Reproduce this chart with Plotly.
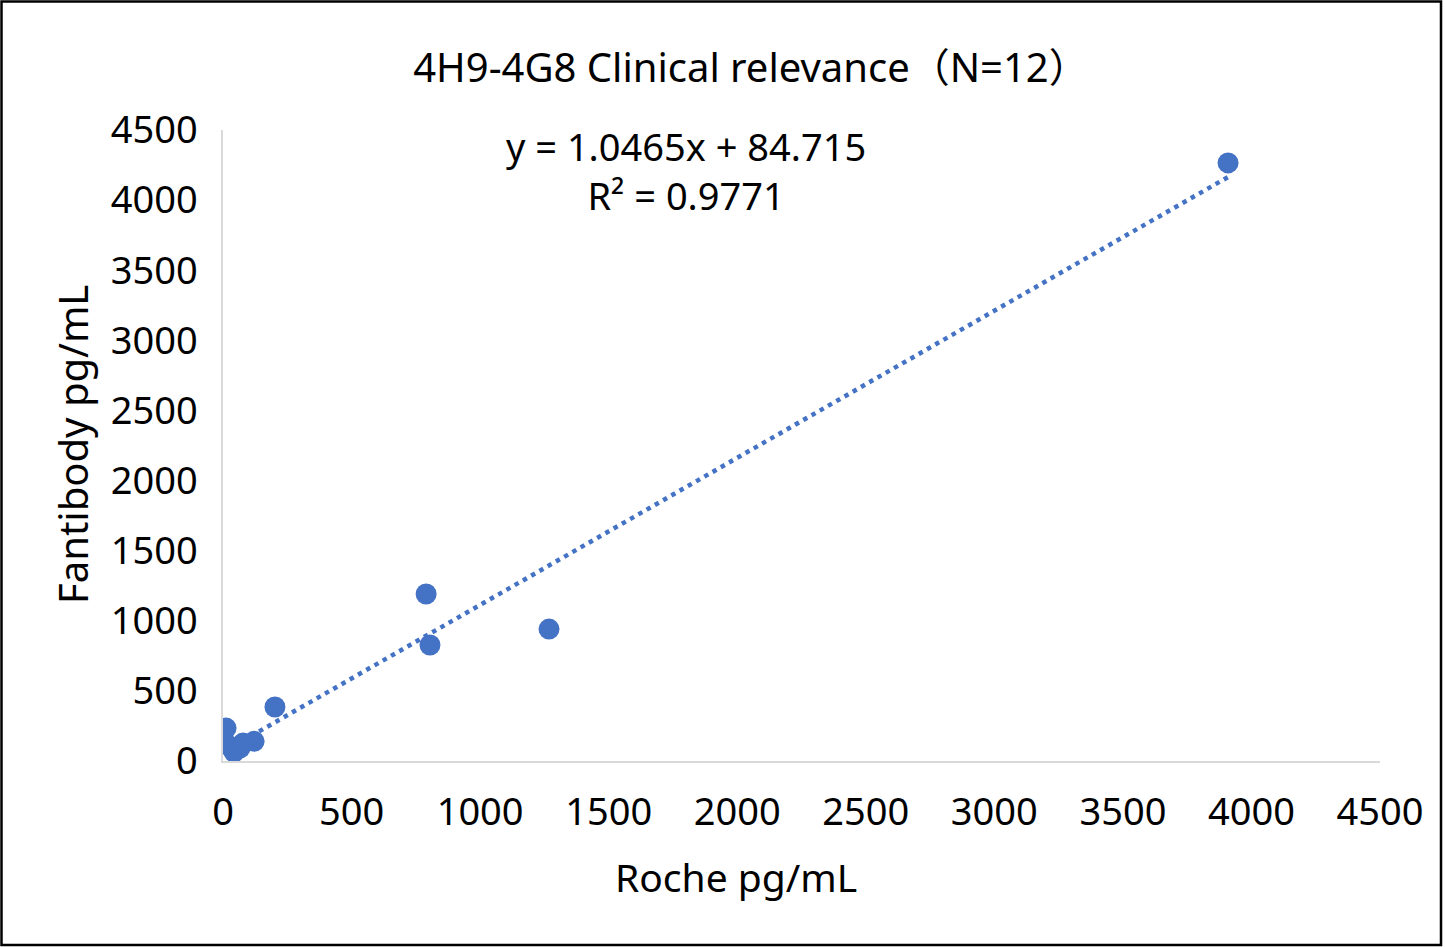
import numpy as np
import plotly.graph_objects as go

# Roche vs Fantibody, pg/mL (12 clinical samples)
roche = [12, 19, 35, 43, 66, 78, 121, 202, 790, 805, 1268, 3909]
fantibody = [235, 114, 93, 64, 93, 128, 140, 385, 1191, 827, 941, 4265]

x_ticks = [0, 500, 1000, 1500, 2000, 2500, 3000, 3500, 4000, 4500]
y_ticks = [0, 500, 1000, 1500, 2000, 2500, 3000, 3500, 4000, 4500]

title_text = "4H9-4G8 Clinical relevance（N=12）"
eq_text = "y = 1.0465x + 84.715<br>R² = 0.9771"

BLUE = "#4472C4"
FONT = "Noto Sans, Noto Sans CJK SC, sans-serif"

# linear trendline over the data range
slope, intercept = np.polyfit(roche, fantibody, 1)
tx = [min(roche), max(roche)]
ty = [slope * v + intercept for v in tx]

fig = go.Figure()
fig.add_trace(go.Scatter(
    x=tx, y=ty, mode="lines",
    line=dict(color=BLUE, width=4.5, dash="4.5px,5px"),
    hoverinfo="skip",
))
fig.add_trace(go.Scatter(
    x=roche, y=fantibody, mode="markers",
    marker=dict(color=BLUE, size=21),
))

# plot area: x 223..1380 px, y 130..761 px
L, R, T, B = 223, 65, 130, 186
W, H = 1445, 947
pw, ph = W - L - R, H - T - B


def px(xp):
    return (xp - L) / pw


def py(yp):
    return (H - B - yp) / ph


fig.add_annotation(x=px(686), y=py(170), xref="paper", yref="paper",
                   xanchor="center", yanchor="middle",
                   text=eq_text, showarrow=False,
                   font=dict(size=38, color="#000"))
fig.add_annotation(x=px(736), y=py(876), xref="paper", yref="paper",
                   xanchor="center", yanchor="middle",
                   text="Roche pg/mL", showarrow=False,
                   font=dict(size=39, color="#000"))
fig.add_annotation(x=px(72), y=py(445), xref="paper", yref="paper",
                   xanchor="center", yanchor="middle",
                   text="Fantibody pg/mL", showarrow=False, textangle=-90,
                   font=dict(size=40, color="#000"))

# outer border of the chart
fig.add_shape(type="rect", xref="paper", yref="paper",
              x0=px(1.5), x1=px(1441), y0=py(945), y1=py(1.5),
              line=dict(color="#000", width=2.5))

fig.update_layout(
    width=W, height=H,
    margin=dict(l=L, r=R, t=T, b=B),
    paper_bgcolor="white", plot_bgcolor="white",
    showlegend=False,
    font=dict(family=FONT, size=38, color="#000"),
    title=dict(text=title_text, x=751 / W, xanchor="center",
               y=1 - 68 / H, yanchor="middle", font=dict(size=40)),
)
fig.update_xaxes(
    range=[0, 4500], tickvals=x_ticks, showgrid=False, zeroline=False,
    showline=True, linecolor="#D9D9D9", linewidth=1.5,
    ticks="", ticklabelstandoff=17,
)
fig.update_yaxes(
    range=[0, 4500], tickvals=y_ticks, showgrid=False, zeroline=False,
    showline=True, linecolor="#D9D9D9", linewidth=1.5,
    ticks="", ticklabelstandoff=16,
)

fig.write_html("out.html", config={"displayModeBar": False},
               post_script="document.body.style.margin='0';")
